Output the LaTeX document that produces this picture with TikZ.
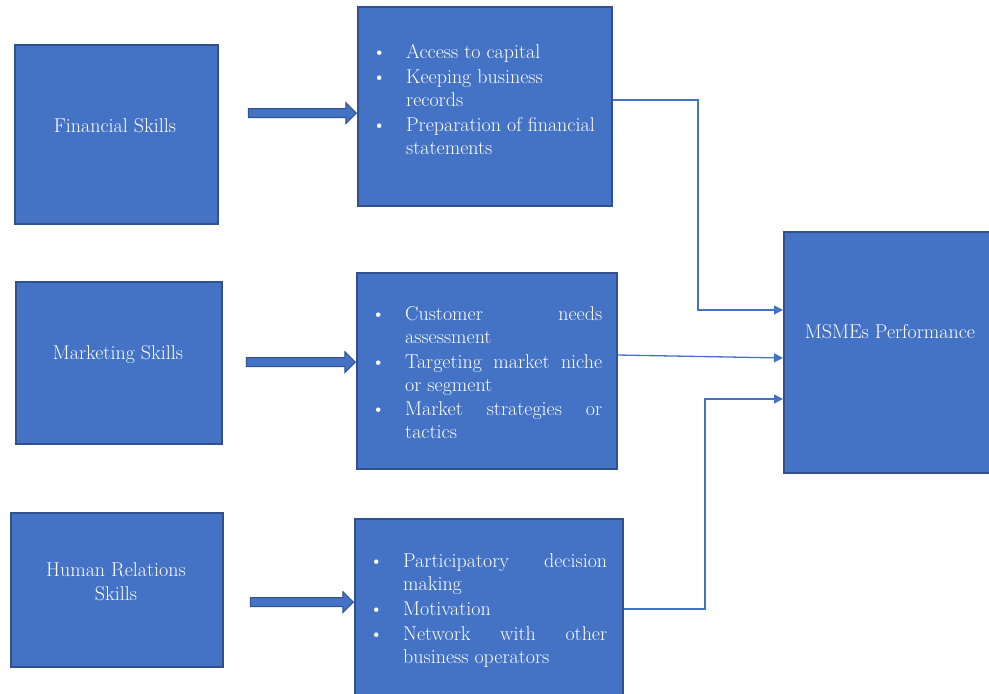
\documentclass[tikz,border=0pt]{standalone}
\usepackage{tikz}
\usetikzlibrary{arrows.meta, positioning, shapes.arrows, calc}
\definecolor{msmeBlue}{HTML}{4472C4}
\definecolor{msmeEdge}{HTML}{2F528F}
\tikzset{
  skillBox/.style={rectangle, draw=msmeEdge, fill=msmeBlue, line width=1.5pt,
                   anchor=north west, inner sep=0pt},
  skillText/.style={text=white, align=center, inner sep=0pt,
                    font=\fontsize{20}{24}\selectfont},
  listText/.style={text=white, anchor=base west, inner sep=0pt,
                   font=\fontsize{20}{23}\selectfont},
  blockArrow/.style={single arrow, draw=msmeEdge, fill=msmeBlue, line width=1pt,
                     minimum width=0pt, inner xsep=0pt, inner ysep=4pt,
                     single arrow head extend=6pt, single arrow head indent=0pt,
                     anchor=tip},
  linkR/.style={-{Triangle[length=9pt, width=9pt]}, draw=msmeBlue, line width=1.3pt},
}

\begin{document}
\begin{tikzpicture}[x=1pt, y=-1pt]
    \useasboundingbox (0,0) rectangle (989,694);
    % skill boxes
    \node[skillBox, minimum width=203pt, minimum height=179pt] (fin) at (14,44) {};
    \node[skillBox, minimum width=206pt, minimum height=162pt] (mkt) at (15,281) {};
    \node[skillBox, minimum width=212pt, minimum height=154pt] (hr) at (10,512) {};
    \node[skillText] (finT) at (115,126) {Financial Skills};
    \node[skillText] (mktT) at (118,355) {Marketing Skills};
    \node[skillText] (hrT) at (116,582) {Human Relations\\Skills};

    % list boxes
    \node[skillBox, minimum width=254pt, minimum height=199pt] (b1) at (357,6) {};
    \node[skillBox, minimum width=260pt, minimum height=196pt] (b2) at (356,272) {};
    \node[skillBox, minimum width=268pt, minimum height=180pt] (b3) at (354,518) {};
    \node[listText] (l1) at (370,58) {\begin{tabular}[t]{@{}p{36pt}@{}p{196pt}@{}}
      \hspace{2pt}\textbullet & Access to capital\\[2pt]
      \hspace{2pt}\textbullet & Keeping business\newline records\\[2pt]
      \hspace{2pt}\textbullet & Preparation of financial\newline statements
    \end{tabular}};
    \node[listText] (l2) at (369,320) {\begin{tabular}[t]{@{}p{36pt}@{}p{197pt}@{}}
      \hspace{2pt}\textbullet & Customer\hfill needs\newline assessment\\[2pt]
      \hspace{2pt}\textbullet & Targeting\hfill market\hfill niche\newline or segment\\[1pt]
      \hspace{2pt}\textbullet & Market\hfill strategies\hfill or\newline tactics
    \end{tabular}};
    \node[listText] (l3) at (367,567) {\begin{tabular}[t]{@{}p{36pt}@{}p{204pt}@{}}
      \hspace{2pt}\textbullet & Participatory\hfill decision\newline making\\[2pt]
      \hspace{2pt}\textbullet & Motivation\\[2pt]
      \hspace{2pt}\textbullet & Network\hfill with\hfill other\newline business operators
    \end{tabular}};

    % outcome
    \node[skillBox, minimum width=210pt, minimum height=241pt] (msme) at (783,231) {};
    \node[skillText] (msmeT) at (890,332) {MSMEs Performance};

    % block arrows
    \node[blockArrow, minimum height=108pt] (a1) at (b1.west |- 0,113) {};
    \node[blockArrow, minimum height=109pt] (a2) at (b2.west |- 0,362) {};
    \node[blockArrow, minimum height=103pt] (a3) at (b3.west |- 0,602) {};

    % connectors
    \coordinate (j1) at (698,310);
    \coordinate (j3) at (705,399);
    \draw[linkR] (b1.east |- 0,100) -| (j1) -- (msme.west |- j1);
    \draw[linkR] (b2.east |- 0,355) -- (msme.west |- 0,358);
    \draw[linkR] (b3.east |- 0,609) -| (j3) -- (msme.west |- j3);
\end{tikzpicture}
\end{document}
